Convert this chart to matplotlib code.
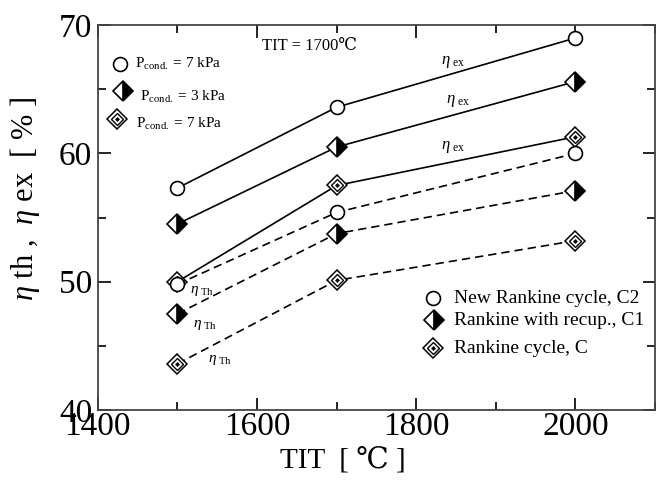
import matplotlib
matplotlib.use("Agg")
import matplotlib.pyplot as plt
from matplotlib.ticker import MultipleLocator

plt.rcParams['font.family'] = ['Liberation Serif', 'DejaVu Serif']
plt.rcParams['mathtext.fontset'] = 'custom'
plt.rcParams['mathtext.rm'] = 'Liberation Serif'
plt.rcParams['mathtext.it'] = 'Liberation Serif:italic'

tit = [1500, 1700, 2000]
c2_ex = [57.3, 63.6, 69.0]
c1_ex = [54.5, 60.5, 65.6]
c_ex = [50.0, 57.5, 61.3]
c2_th = [49.8, 55.4, 60.0]
c1_th = [47.5, 53.75, 57.1]
c_th = [43.6, 50.1, 53.2]

fig = plt.figure(figsize=(6.61, 4.84), dpi=100)
ax = fig.add_axes([0.148, 0.153, 0.843, 0.795])

DASH = (5, 3)

def style(ls):
    if ls == '--':
        return dict(linestyle='--', dashes=DASH)
    if ls == 'none':
        return dict(linestyle='none')
    return dict(linestyle='-')

def circle(ax, x, y, ls, **kw):
    ax.plot(x, y, color='black', lw=1.2, marker='o', ms=10,
            mfc='white', mec='black', mew=1.2, **style(ls), **kw)

def half(ax, x, y, ls, **kw):
    ax.plot(x, y, color='black', lw=1.2, marker='D', ms=10,
            fillstyle='right', mfc='black', markerfacecoloralt='white',
            mec='black', mew=1.2, **style(ls), **kw)

def double(ax, x, y, ls, **kw):
    ax.plot(x, y, color='black', lw=1.2, marker='D', ms=10.5,
            mfc='white', mec='black', mew=1.1, **style(ls), **kw)
    ax.plot(x, y, linestyle='none', marker='D', ms=6, mfc='white', mec='black',
            mew=1.0, **kw)
    ax.plot(x, y, linestyle='none', marker='D', ms=2, mfc='black', mec='black',
            mew=0.5, **kw)

circle(ax, tit, c2_ex, '-')
half(ax, tit, c1_ex, '-')
double(ax, tit, c_ex, '-')
circle(ax, tit, c2_th, '--')
half(ax, tit, c1_th, '--')
double(ax, tit, c_th, '--')

ax.set_xlim(1400, 2100)
ax.set_ylim(40, 70)
ax.xaxis.set_major_locator(MultipleLocator(200))
ax.xaxis.set_minor_locator(MultipleLocator(100))
ax.yaxis.set_major_locator(MultipleLocator(10))
ax.yaxis.set_minor_locator(MultipleLocator(5))
ax.tick_params(which='both', direction='in', top=True, right=True,
               labelsize=24, width=1.2)
ax.tick_params(which='major', length=9)
ax.tick_params(which='minor', length=6)
ax.tick_params(axis='x', which='major', pad=1)
ax.tick_params(axis='y', which='major', pad=4)
for s in ax.spines.values():
    s.set_linewidth(1.3)
    s.set_color('#444444')

ax.set_xlabel('TIT  [ ℃ ]', fontsize=21)
ax.xaxis.set_label_coords(0.44, -0.10)
ax.set_ylabel(r'$\eta$ th ,  $\eta$ ex  [ % ]', fontsize=22)
ax.yaxis.set_label_coords(-0.10, 0.548)

# annotations
ax.text(1606, 68.4, 'TIT = 1700℃', fontsize=12, va='center')
for x, y in [(1831, 67.1), (1837, 64.1), (1831, 60.5)]:
    ax.text(x, y, r'$\eta_{\ \rm ex}$', fontsize=12, va='center')
for x, y in [(1516, 49.3), (1520, 46.6), (1539, 43.9)]:
    ax.text(x, y, r'$\eta_{\ \rm Th}$', fontsize=11, va='center')

# upper left legend
circle(ax, [1428], [67.0], 'none', clip_on=False)
ax.text(1447, 67.0, r'P$_{\rm cond.}$ = 7 kPa', fontsize=11, va='center')
half(ax, [1431], [64.9], 'none', clip_on=False)
ax.text(1453, 64.4, r'P$_{\rm cond.}$ = 3 kPa', fontsize=11, va='center')
double(ax, [1424], [62.7], 'none', clip_on=False)
ax.text(1448, 62.3, r'P$_{\rm cond.}$ = 7 kPa', fontsize=11, va='center')

# lower right legend
circle(ax, [1821], [48.7], 'none')
ax.text(1848, 48.7, 'New Rankine cycle, C2', fontsize=14, va='center')
half(ax, [1822], [47.0], 'none')
ax.text(1848, 47.0, 'Rankine with recup., C1', fontsize=14, va='center')
double(ax, [1821], [44.8], 'none')
ax.text(1848, 44.8, 'Rankine cycle, C', fontsize=14, va='center')

fig.savefig('out.png', dpi=100)
